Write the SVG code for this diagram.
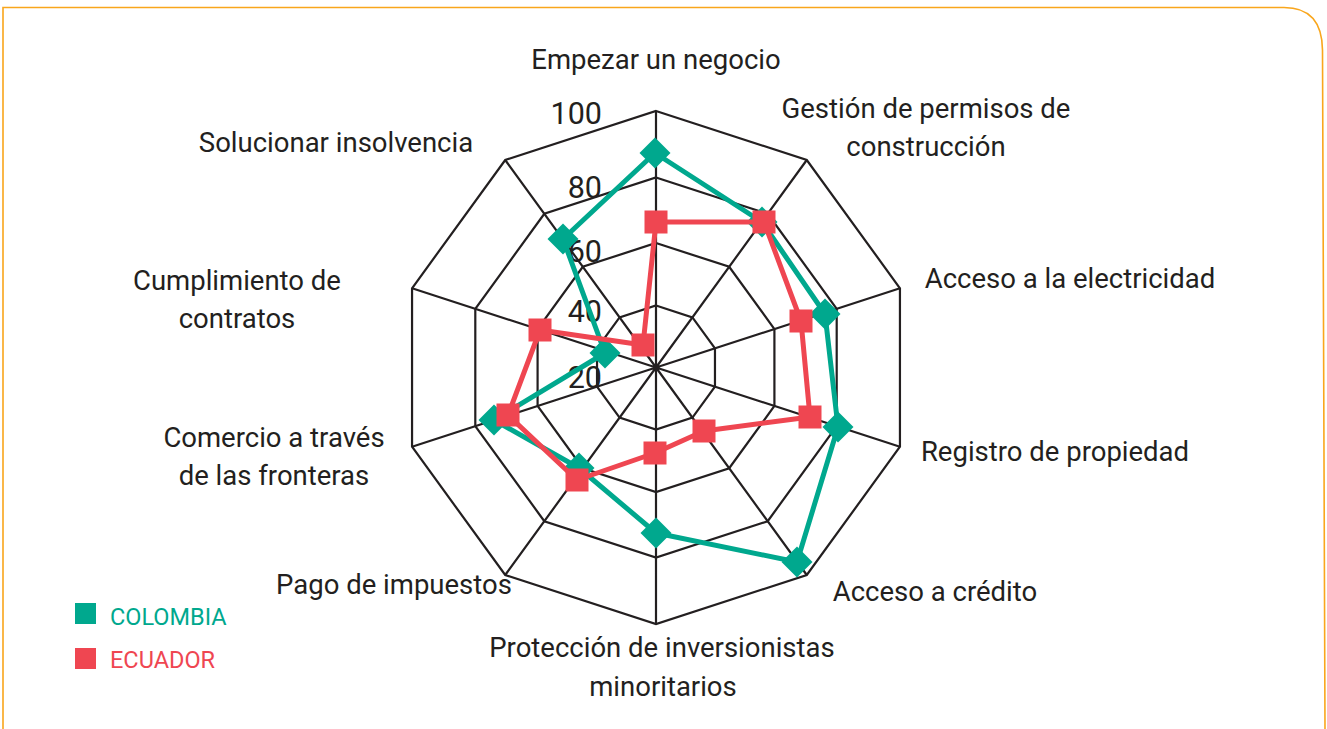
<svg xmlns="http://www.w3.org/2000/svg" xmlns:xlink="http://www.w3.org/1999/xlink" width="1327" height="729" viewBox="0 0 1327 729">
<style>
.grid{fill:none;stroke:#231f20;stroke-width:2.2;stroke-linejoin:miter}
.lbl{font-family:Roboto,"Liberation Sans",sans-serif;font-size:27.5px;fill:#231f20;text-anchor:middle}
.tick{font-family:Roboto,"Liberation Sans",sans-serif;font-size:30.5px;fill:#231f20;text-anchor:end}
.col{fill:none;stroke:#00a88e;stroke-width:5;stroke-linejoin:round}
.ecu{fill:none;stroke:#ef4651;stroke-width:5;stroke-linejoin:round}
.leg{font-family:Roboto,"Liberation Sans",sans-serif;font-size:23.5px}
</style>
<defs>
<path id="dia" d="M0,-15.5 L15.5,0 L0,15.5 L-15.5,0Z" fill="#00a88e"/>
<rect id="sq" x="-11.5" y="-11.5" width="23" height="23" fill="#ef4651"/>
</defs>
<rect width="1327" height="729" fill="#ffffff"/>
<path d="M3,729 L3,7.5 L1284,7.5 Q1322,7.5 1322.5,50 L1325,729" fill="none" stroke="#f9a61c" stroke-width="1.6"/>

<g id="grid">
<polygon class="grid" points="656,111 806.77,159.99 899.95,288.24 899.95,446.76 806.77,575.01 656,624 505.23,575.01 412.05,446.76 412.05,288.24 505.23,159.99"/>
<polygon class="grid" points="656,177.5 767.68,213.79 836.7,308.79 836.7,426.21 767.68,521.21 656,557.5 544.32,521.21 475.3,426.21 475.3,308.79 544.32,213.79"/>
<polygon class="grid" points="656,243 729.18,266.78 774.41,329.03 774.41,405.97 729.18,468.22 656,492 582.82,468.22 537.59,405.97 537.59,329.03 582.82,266.78"/>
<polygon class="grid" points="656,305.5 692.44,317.34 714.97,348.34 714.97,386.66 692.44,417.66 656,429.5 619.56,417.66 597.03,386.66 597.03,348.34 619.56,317.34"/>
<path class="grid" d="M656,367.5L656,111M656,367.5L806.77,159.99M656,367.5L899.95,288.24M656,367.5L899.95,446.76M656,367.5L806.77,575.01M656,367.5L656,624M656,367.5L505.23,575.01M656,367.5L412.05,446.76M656,367.5L412.05,288.24M656,367.5L505.23,159.99"/>
</g>

<g id="ticks">
<text class="tick" x="602" y="123.5">100</text>
<text class="tick" x="602" y="197.5">80</text>
<text class="tick" x="602" y="261.5">60</text>
<text class="tick" x="602" y="321.5">40</text>
<text class="tick" x="602" y="388">20</text>
</g>

<g id="series-colombia">
<polygon class="col" points="655,153 762,222 825,314 838,427 797,562 656,533 579,468 494,420 605,353 563,239"/>
<use xlink:href="#dia" href="#dia" x="655" y="153"/>
<use xlink:href="#dia" href="#dia" x="762" y="222"/>
<use xlink:href="#dia" href="#dia" x="825" y="314"/>
<use xlink:href="#dia" href="#dia" x="838" y="427"/>
<use xlink:href="#dia" href="#dia" x="797" y="562"/>
<use xlink:href="#dia" href="#dia" x="656" y="533"/>
<use xlink:href="#dia" href="#dia" x="579" y="468"/>
<use xlink:href="#dia" href="#dia" x="494" y="420"/>
<use xlink:href="#dia" href="#dia" x="605" y="353"/>
<use xlink:href="#dia" href="#dia" x="563" y="239"/>
</g>

<g id="series-ecuador">
<polygon class="ecu" points="656,222 764,222 801,321 810,417 704,431 655,453 577,480 508,415 540,330 643,345"/>
<use xlink:href="#sq" href="#sq" x="656" y="222"/>
<use xlink:href="#sq" href="#sq" x="764" y="222"/>
<use xlink:href="#sq" href="#sq" x="801" y="321"/>
<use xlink:href="#sq" href="#sq" x="810" y="417"/>
<use xlink:href="#sq" href="#sq" x="704" y="431"/>
<use xlink:href="#sq" href="#sq" x="655" y="453"/>
<use xlink:href="#sq" href="#sq" x="577" y="480"/>
<use xlink:href="#sq" href="#sq" x="508" y="415"/>
<use xlink:href="#sq" href="#sq" x="540" y="330"/>
<use xlink:href="#sq" href="#sq" x="643" y="345"/>
</g>

<g id="labels">
<text class="lbl" x="656" y="69">Empezar un negocio</text>
<text class="lbl" x="926" y="118">Gestión de permisos de</text>
<text class="lbl" x="926" y="156">construcción</text>
<text class="lbl" x="1070" y="288">Acceso a la electricidad</text>
<text class="lbl" x="1055" y="461">Registro de propiedad</text>
<text class="lbl" x="935" y="601">Acceso a crédito</text>
<text class="lbl" x="662" y="657">Protección de inversionistas</text>
<text class="lbl" x="663" y="696">minoritarios</text>
<text class="lbl" x="394" y="594">Pago de impuestos</text>
<text class="lbl" x="274" y="447">Comercio a través</text>
<text class="lbl" x="274" y="485">de las fronteras</text>
<text class="lbl" x="237" y="290">Cumplimiento de</text>
<text class="lbl" x="237" y="328">contratos</text>
<text class="lbl" x="336" y="152">Solucionar insolvencia</text>
</g>

<g id="legend">
<rect x="75" y="603" width="21" height="21" fill="#00a88e"/>
<text class="leg" x="110" y="625" fill="#00a88e">COLOMBIA</text>
<rect x="75" y="648" width="21" height="21" fill="#ef4651"/>
<text class="leg" x="110" y="668" fill="#ef4651">ECUADOR</text>
</g>
</svg>
